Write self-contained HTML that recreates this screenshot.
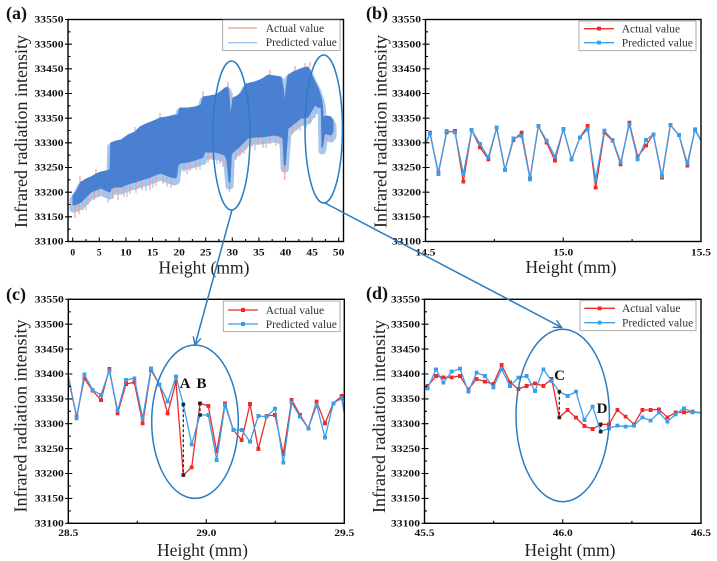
<!DOCTYPE html>
<html><head><meta charset="utf-8">
<style>
html,body{margin:0;padding:0;background:#fff;width:717px;height:561px;overflow:hidden}
svg{display:block}
svg text{font-family:"Liberation Serif","Times New Roman",serif}
</style>
</head><body>
<svg width="717" height="561" viewBox="0 0 717 561" xmlns="http://www.w3.org/2000/svg">
<defs>
<marker id="mr" markerWidth="4" markerHeight="4" refX="2" refY="2" markerUnits="userSpaceOnUse"><rect width="4" height="4" fill="#ee2b2b"/></marker>
<marker id="mb" markerWidth="4" markerHeight="4" refX="2" refY="2" markerUnits="userSpaceOnUse"><rect width="4" height="4" fill="#3a9fe8"/></marker>
<marker id="ar" markerWidth="12" markerHeight="12" refX="10" refY="6" orient="auto" markerUnits="userSpaceOnUse"><path d="M2,2 L10,6 L2,10" fill="none" stroke="#2a7cc0" stroke-width="1.4"/></marker>
<clipPath id="ca"><rect x="68" y="19.5" width="275.5" height="222"/></clipPath>
<clipPath id="cb"><rect x="425.5" y="19.5" width="275.5" height="222"/></clipPath>
<clipPath id="cc"><rect x="68.3" y="299.3" width="276" height="224"/></clipPath>
<clipPath id="cd"><rect x="424.5" y="299.3" width="276.5" height="224"/></clipPath>
<polygon id="core" points="73,196 77,190 81,182 86,179 91,177 96,174 101,172 106,171 110,170 110.7,143 116,141 121,140 128,135 135,132 140,127 146,124 151,122 156,120 160,118 167,117 175,115 178,115 179.7,108 188,108 195,107 201,105 203,97 209,96 215,95 220,92 225,88 228,87 229.5,100 230,115 231,112 233,98 237,96 241,93 246,84 250,83 255,82 262,79 268,75 275,76 281,77 283.5,90 284.7,105 286,90 288,75 293,72 298,70 303,68 308,67 313,78 318,88 321.3,98 322.5,106 323,117 327,116 331,117 333,122 333,132 331,135 327,134 324.7,133 322.5,147 322,147 321.3,108 318,107 314.7,105 311,112 308,117 304,118 301,118 295,123 290,127 288,128 285.3,165 284.2,165 283,138 279,136 275,135 268,136 261,137 255,137 248,138 243,143 238,148 233,152 231.3,155 230,182 229,182 227,160 224.7,155 219,153 214.7,152 209,152 204.7,152 203,157 201,158 195,160 188,162 181,163 178,165 176.5,177 174.7,178 168,176 161,173 155,175 148,178 141,180 135,182 128,184 121,187 116,187 111.3,188 110.5,191 109.7,192 105,190 101,188 96,190 91,192 86,197 81,202 77,204 73,205"/>
</defs>
<rect width="717" height="561" fill="#fff"/>

<!-- ===== Panel (a) data ===== -->
<g clip-path="url(#ca)">
<use href="#core" transform="translate(0,4)" fill="#a6c7ee" stroke="#a6c7ee" stroke-width="7" stroke-linejoin="round"/>
<path d="M86,197V210 M108,191V203 M127,185V197 M146,179V191 M153,176V188 M167,176V187 M180,164V175 M187,162V174 M200,158V170 M205,152V165 M217,153V164 M223,155V167 M244,142V154 M255,137V150 M266,136V148 M280,136V147 M288,128V140 M300,118V131 M306,117V128 M315,106V118" stroke="#9cc0ea" stroke-width="1.1" fill="none"/>
<path d="M75,204V218 M79,203V214 M83,200V210 M88,195V205 M94,191V200 M99,189V197 M104,189V196 M113,188V199 M118,187V200 M124,186V197 M130,184V194 M136,182V193 M142,180V190 M150,177V190 M156,175V186 M163,174V184 M171,177V188 M184,163V172 M190,161V171 M196,160V170 M208,152V163 M213,152V160 M220,153V164 M226,156V168 M229.5,180V192 M236,150V160 M240,146V156 M246,140V150 M252,137V147 M258,137V145 M263,137V148 M270,136V144 M276,135V146 M284.7,165V180 M292,125V135 M297,121V130 M303,118V126 M310,115V123 M327,134V140 M331,135V141 M80,183V176 M96,174V169 M135,132V127 M160,118V113 M203,97V91 M228,87V82 M232,100V93 M270,75V70 M295,71V66 M305,68V63 M310,67V62" stroke="#f29a92" stroke-width="1.1" fill="none"/>
<use href="#core" fill="#4a80d2" stroke="#4a80d2" stroke-width="1" stroke-linejoin="round"/>
</g>

<!-- ===== Panel (b) data ===== -->
<g clip-path="url(#cb)" fill="none" stroke-width="1.3" stroke-linejoin="round">
<polyline stroke="#ee2b2b" marker-mid="url(#mr)" points="426,143.3 430,132.7 438.3,172.7 446.7,132.3 455,131 463.3,181.7 471.7,130 480,147.3 488.3,159.3 496.7,127.7 505,170 513.3,140 521.7,132.7 530,178.3 538.3,126 546.7,142.7 555,160.7 563.3,129 571.7,159.3 580,137.3 587.7,126 595.7,187.7 604.3,132.7 612.7,140.7 620.7,164.3 629.3,122.7 637.7,156.7 646,145.7 653.3,134.3 662,177.7 670.3,125 679,135 687.3,165.7 695,129.3 700.7,140"/>
<polyline stroke="#3a9fe8" marker-mid="url(#mb)" points="426,143.3 430,133.3 438.3,174 446.7,131 455,132.3 463.3,174 471.7,130 480,144 488.3,157.3 496.7,127.7 505,170 513.3,138.3 521.7,136 530,179.3 538.3,126 546.7,140.7 555,156.7 563.3,129 571.7,159.3 580,137.3 587.7,129.3 595.7,179.3 604.3,130.7 612.7,140 620.7,162.3 629.3,124.3 637.7,159.3 646,140 653.3,134.3 662,176 670.3,125 679,135 687.3,163.3 695,130 700.7,140"/>
</g>

<!-- ===== Panel (c) data ===== -->
<g clip-path="url(#cc)" fill="none" stroke-width="1.3" stroke-linejoin="round">
<polyline stroke="#ee2b2b" marker-mid="url(#mr)" points="68.3,378.3 76.7,416.7 84.3,378.3 92.7,390.7 101,400 109.3,369 117.7,413.3 126,384 134.3,382.3 142.7,423.3 151,370 159.3,384.3 167.7,413.3 176,381.7 183.3,475 191.7,467.3 200,403.3 208.3,406 216.7,451.7 225,403.3 233.3,430 241.7,440 250,404 258.3,449 266.7,416 275,415 283.3,454 291.7,400 300,415 308.3,428.3 316.7,401.7 325,423.3 333.3,403.3 341.7,396 344.3,413.3"/>
<polyline stroke="#3a9fe8" marker-mid="url(#mb)" points="68.3,375 76.7,418.3 84.3,374.3 92.7,390 101,395 109.3,370.7 117.7,410.7 126,380 134.3,378.3 142.7,418.3 151,368.3 159.3,384.3 167.7,401.7 176,376.7 183.3,404.3 191.7,444.3 200,415 208.3,415 216.7,460 225,405 233.3,430 241.7,430 250,441.7 258.3,416 266.7,416.7 275,408.7 283.3,462.7 291.7,402.7 300,416.7 308.3,428.3 316.7,405 325,437.7 333.3,403.3 341.7,398.3 344.3,413.3"/>
</g>
<path d="M183.3,404.3V475 M200,403.3V415" stroke="#222" stroke-width="1.2" stroke-dasharray="3,2"/>
<g fill="#222"><circle cx="183.3" cy="404.3" r="1.8"/><circle cx="183.3" cy="475" r="1.8"/><circle cx="200" cy="403.3" r="1.8"/><circle cx="200" cy="415" r="1.8"/></g>
<g font-size="15" font-weight="bold" fill="#111" text-anchor="middle"><text x="185" y="388">A</text><text x="201.5" y="388">B</text></g>

<!-- ===== Panel (d) data ===== -->
<g clip-path="url(#cd)" fill="none" stroke-width="1.3" stroke-linejoin="round">
<polyline stroke="#ee2b2b" marker-mid="url(#mr)" points="424.3,390 427.7,386 436,376 443.3,377.3 451.7,377.3 460,376 468.3,389.3 476.7,379 485,381.7 493.3,384 501.7,365 510,382.3 518.3,389 526.7,386 535,383.3 543.3,386 551.7,379 559.3,417.3 567.7,410 576,417.7 584.3,426 592.7,429 600.7,424.3 609,424.3 617.3,410 625.7,416.7 634,424.3 642.3,410 650.7,410 659,409.3 667.3,417.3 675.7,412.3 684,412.3 692.3,411.7 700.7,412.7"/>
<polyline stroke="#3a9fe8" marker-mid="url(#mb)" points="424.3,388 427.7,388.3 436,369.3 443.3,382.7 451.7,371.7 460,368.7 468.3,391.7 476.7,372.7 485,376 493.3,387.3 501.7,369.3 510,386 518.3,377.7 526.7,376 535,391 543.3,369.3 551.7,381 559.3,391.7 567.7,396 576,391.7 584.3,420 592.7,406.7 600.7,431.7 609,428.3 617.3,425.7 625.7,426.7 634,425.7 642.3,417.3 650.7,420.7 659,412.3 667.3,421.7 675.7,414.3 684,408.3 692.3,412.3 700.7,412.7"/>
</g>
<path d="M559.3,391.7V417.3 M600.7,424.3V431.7" stroke="#222" stroke-width="1.2" stroke-dasharray="3,2"/>
<g fill="#222"><circle cx="559.3" cy="391.7" r="1.8"/><circle cx="559.3" cy="417.3" r="1.8"/><circle cx="600.7" cy="424.3" r="1.8"/><circle cx="600.7" cy="431.7" r="1.8"/></g>
<g font-size="15" font-weight="bold" fill="#111" text-anchor="middle"><text x="559.5" y="380">C</text><text x="602" y="413">D</text></g>

<!-- ===== Frames ===== -->
<g fill="none" stroke="#000" stroke-width="1.4">
<rect x="68" y="19.5" width="275.5" height="222"/>
<rect x="425.5" y="19.5" width="275.5" height="222"/>
<rect x="68.3" y="299.3" width="276" height="224"/>
<rect x="424.5" y="299.3" width="276.5" height="224"/>
</g>

<!-- ===== Ticks ===== -->
<g stroke="#000" stroke-width="1.1" fill="none">
<path d="M65,241.5H72M65,216.8H72M65,192.2H72M65,167.5H72M65,142.8H72M65,118.2H72M65,93.5H72M65,68.8H72M65,44.2H72M65,19.5H72 M68,229.2H70.5M68,204.5H70.5M68,179.8H70.5M68,155.2H70.5M68,130.5H70.5M68,105.8H70.5M68,81.2H70.5M68,56.5H70.5M68,31.8H70.5"/>
<path d="M72.7,241.5V237.5M99.3,241.5V237.5M125.9,241.5V237.5M152.5,241.5V237.5M179.1,241.5V237.5M205.7,241.5V237.5M232.3,241.5V237.5M258.9,241.5V237.5M285.5,241.5V237.5M312.1,241.5V237.5M338.7,241.5V237.5 M86,241.5V239M112.6,241.5V239M139.2,241.5V239M165.8,241.5V239M192.4,241.5V239M219,241.5V239M245.6,241.5V239M272.2,241.5V239M298.8,241.5V239M325.4,241.5V239"/>
<path d="M422.5,241.5H429.5M422.5,216.8H429.5M422.5,192.2H429.5M422.5,167.5H429.5M422.5,142.8H429.5M422.5,118.2H429.5M422.5,93.5H429.5M422.5,68.8H429.5M422.5,44.2H429.5M422.5,19.5H429.5 M425.5,229.2H428M425.5,204.5H428M425.5,179.8H428M425.5,155.2H428M425.5,130.5H428M425.5,105.8H428M425.5,81.2H428M425.5,56.5H428M425.5,31.8H428"/>
<path d="M563.25,241.5V237.5 M494.4,241.5V239 M632.1,241.5V239"/>
<path d="M65.3,523.3H72.3M65.3,498.4H72.3M65.3,473.5H72.3M65.3,448.6H72.3M65.3,423.7H72.3M65.3,398.9H72.3M65.3,374H72.3M65.3,349.1H72.3M65.3,324.2H72.3M65.3,299.3H72.3 M68.3,510.9H70.8M68.3,486H70.8M68.3,461.1H70.8M68.3,436.2H70.8M68.3,411.3H70.8M68.3,386.4H70.8M68.3,361.5H70.8M68.3,336.7H70.8M68.3,311.8H70.8"/>
<path d="M206.3,523.3V519.3 M137.3,523.3V520.8 M275.3,523.3V520.8"/>
<path d="M421.5,523.3H428.5M421.5,498.4H428.5M421.5,473.5H428.5M421.5,448.6H428.5M421.5,423.7H428.5M421.5,398.9H428.5M421.5,374H428.5M421.5,349.1H428.5M421.5,324.2H428.5M421.5,299.3H428.5 M424.5,510.9H427M424.5,486H427M424.5,461.1H427M424.5,436.2H427M424.5,411.3H427M424.5,386.4H427M424.5,361.5H427M424.5,336.7H427M424.5,311.8H427"/>
<path d="M562.75,523.3V519.3 M493.6,523.3V520.8 M631.9,523.3V520.8"/>
</g>

<!-- ===== Tick labels ===== -->
<g font-size="9.5" font-weight="bold" fill="#111" text-anchor="end">
<text x="63.5" y="244.7" textLength="29" lengthAdjust="spacingAndGlyphs">33100</text>
<text x="63.5" y="220" textLength="29" lengthAdjust="spacingAndGlyphs">33150</text>
<text x="63.5" y="195.4" textLength="29" lengthAdjust="spacingAndGlyphs">33200</text>
<text x="63.5" y="170.7" textLength="29" lengthAdjust="spacingAndGlyphs">33250</text>
<text x="63.5" y="146" textLength="29" lengthAdjust="spacingAndGlyphs">33300</text>
<text x="63.5" y="121.4" textLength="29" lengthAdjust="spacingAndGlyphs">33350</text>
<text x="63.5" y="96.7" textLength="29" lengthAdjust="spacingAndGlyphs">33400</text>
<text x="63.5" y="72" textLength="29" lengthAdjust="spacingAndGlyphs">33450</text>
<text x="63.5" y="47.4" textLength="29" lengthAdjust="spacingAndGlyphs">33500</text>
<text x="63.5" y="22.7" textLength="29" lengthAdjust="spacingAndGlyphs">33550</text>

<text x="421" y="244.7" textLength="29" lengthAdjust="spacingAndGlyphs">33100</text>
<text x="421" y="220" textLength="29" lengthAdjust="spacingAndGlyphs">33150</text>
<text x="421" y="195.4" textLength="29" lengthAdjust="spacingAndGlyphs">33200</text>
<text x="421" y="170.7" textLength="29" lengthAdjust="spacingAndGlyphs">33250</text>
<text x="421" y="146" textLength="29" lengthAdjust="spacingAndGlyphs">33300</text>
<text x="421" y="121.4" textLength="29" lengthAdjust="spacingAndGlyphs">33350</text>
<text x="421" y="96.7" textLength="29" lengthAdjust="spacingAndGlyphs">33400</text>
<text x="421" y="72" textLength="29" lengthAdjust="spacingAndGlyphs">33450</text>
<text x="421" y="47.4" textLength="29" lengthAdjust="spacingAndGlyphs">33500</text>
<text x="421" y="22.7" textLength="29" lengthAdjust="spacingAndGlyphs">33550</text>

<text x="63.8" y="526.5" textLength="29" lengthAdjust="spacingAndGlyphs">33100</text>
<text x="63.8" y="501.6" textLength="29" lengthAdjust="spacingAndGlyphs">33150</text>
<text x="63.8" y="476.7" textLength="29" lengthAdjust="spacingAndGlyphs">33200</text>
<text x="63.8" y="451.8" textLength="29" lengthAdjust="spacingAndGlyphs">33250</text>
<text x="63.8" y="426.9" textLength="29" lengthAdjust="spacingAndGlyphs">33300</text>
<text x="63.8" y="402.1" textLength="29" lengthAdjust="spacingAndGlyphs">33350</text>
<text x="63.8" y="377.2" textLength="29" lengthAdjust="spacingAndGlyphs">33400</text>
<text x="63.8" y="352.3" textLength="29" lengthAdjust="spacingAndGlyphs">33450</text>
<text x="63.8" y="327.4" textLength="29" lengthAdjust="spacingAndGlyphs">33500</text>
<text x="63.8" y="302.5" textLength="29" lengthAdjust="spacingAndGlyphs">33550</text>

<text x="420" y="526.5" textLength="29" lengthAdjust="spacingAndGlyphs">33100</text>
<text x="420" y="501.6" textLength="29" lengthAdjust="spacingAndGlyphs">33150</text>
<text x="420" y="476.7" textLength="29" lengthAdjust="spacingAndGlyphs">33200</text>
<text x="420" y="451.8" textLength="29" lengthAdjust="spacingAndGlyphs">33250</text>
<text x="420" y="426.9" textLength="29" lengthAdjust="spacingAndGlyphs">33300</text>
<text x="420" y="402.1" textLength="29" lengthAdjust="spacingAndGlyphs">33350</text>
<text x="420" y="377.2" textLength="29" lengthAdjust="spacingAndGlyphs">33400</text>
<text x="420" y="352.3" textLength="29" lengthAdjust="spacingAndGlyphs">33450</text>
<text x="420" y="327.4" textLength="29" lengthAdjust="spacingAndGlyphs">33500</text>
<text x="420" y="302.5" textLength="29" lengthAdjust="spacingAndGlyphs">33550</text>
</g>

<g font-size="9.5" font-weight="bold" fill="#111" text-anchor="middle">
<text x="72.7" y="255.5">0</text>
<text x="99.3" y="255.5">5</text>
<text x="125.9" y="255.5" textLength="11.5" lengthAdjust="spacingAndGlyphs">10</text>
<text x="152.5" y="255.5" textLength="11.5" lengthAdjust="spacingAndGlyphs">15</text>
<text x="179.1" y="255.5" textLength="11.5" lengthAdjust="spacingAndGlyphs">20</text>
<text x="205.7" y="255.5" textLength="11.5" lengthAdjust="spacingAndGlyphs">25</text>
<text x="232.3" y="255.5" textLength="11.5" lengthAdjust="spacingAndGlyphs">30</text>
<text x="258.9" y="255.5" textLength="11.5" lengthAdjust="spacingAndGlyphs">35</text>
<text x="285.5" y="255.5" textLength="11.5" lengthAdjust="spacingAndGlyphs">40</text>
<text x="312.1" y="255.5" textLength="11.5" lengthAdjust="spacingAndGlyphs">45</text>
<text x="338.7" y="255.5" textLength="11.5" lengthAdjust="spacingAndGlyphs">50</text>

<text x="425.5" y="255.5" textLength="20" lengthAdjust="spacingAndGlyphs">14.5</text>
<text x="563.25" y="255.5" textLength="20" lengthAdjust="spacingAndGlyphs">15.0</text>
<text x="701" y="255.5" textLength="20" lengthAdjust="spacingAndGlyphs">15.5</text>

<text x="68.3" y="536" textLength="20" lengthAdjust="spacingAndGlyphs">28.5</text>
<text x="206.3" y="536" textLength="20" lengthAdjust="spacingAndGlyphs">29.0</text>
<text x="344.3" y="536" textLength="20" lengthAdjust="spacingAndGlyphs">29.5</text>

<text x="424.5" y="536" textLength="20" lengthAdjust="spacingAndGlyphs">45.5</text>
<text x="562.75" y="536" textLength="20" lengthAdjust="spacingAndGlyphs">46.0</text>
<text x="701" y="536" textLength="20" lengthAdjust="spacingAndGlyphs">46.5</text>
</g>

<!-- ===== Axis titles ===== -->
<g font-size="17.5" fill="#222" text-anchor="middle">
<text x="204" y="273.5">Height (mm)</text>
<text x="571" y="273">Height (mm)</text>
<text x="202.5" y="556">Height (mm)</text>
<text x="570" y="556">Height (mm)</text>
</g>
<g font-size="18" fill="#222" text-anchor="middle">
<text transform="translate(27,131.5) rotate(-90)">Infrared radiation intensity</text>
<text transform="translate(386.5,131.5) rotate(-90)">Infrared radiation intensity</text>
<text transform="translate(26.5,416) rotate(-90)">Infrared radiation intensity</text>
<text transform="translate(385,416.5) rotate(-90)">Infrared radiation intensity</text>
</g>

<!-- ===== Panel labels ===== -->
<g font-size="18" font-weight="bold" fill="#111">
<text x="6" y="19">(a)</text>
<text x="366" y="19">(b)</text>
<text x="6" y="300">(c)</text>
<text x="366" y="299">(d)</text>
</g>

<!-- ===== Legends ===== -->
<g fill="#fff" stroke="#9a9a9a" stroke-width="0.8">
<rect x="222.7" y="20" width="117.3" height="30.5"/>
<rect x="579" y="21" width="117" height="29.7"/>
<rect x="223.3" y="301" width="116.7" height="30.7"/>
<rect x="580" y="300.7" width="116" height="30"/>
</g>
<g stroke-width="1.3" fill="none">
<path d="M228,28H257" stroke="#f29a92"/>
<path d="M228,42.7H257" stroke="#a0c8ee"/>
<polyline points="584,28.7 599,28.7 614,28.7" stroke="#ee2b2b" marker-mid="url(#mr)"/>
<polyline points="584,42.7 599,42.7 614,42.7" stroke="#3a9fe8" marker-mid="url(#mb)"/>
<polyline points="228,310 243,310 258,310" stroke="#ee2b2b" marker-mid="url(#mr)"/>
<polyline points="228,324 243,324 258,324" stroke="#3a9fe8" marker-mid="url(#mb)"/>
<polyline points="584.3,308.3 599.7,308.3 615,308.3" stroke="#ee2b2b" marker-mid="url(#mr)"/>
<polyline points="584.3,322.7 599.7,322.7 615,322.7" stroke="#3a9fe8" marker-mid="url(#mb)"/>
</g>
<g font-size="11.5" fill="#333">
<text x="265.7" y="31.8">Actual value</text>
<text x="265.7" y="46">Predicted value</text>
<text x="621.7" y="32.5">Actual value</text>
<text x="621.7" y="46.5">Predicted value</text>
<text x="265.7" y="313.8">Actual value</text>
<text x="265.7" y="327.8">Predicted value</text>
<text x="622" y="312">Actual value</text>
<text x="622" y="326.3">Predicted value</text>
</g>

<!-- ===== Ellipses & arrows ===== -->
<g fill="none" stroke="#2a7cc0" stroke-width="1.5">
<ellipse cx="231.5" cy="135.5" rx="18.5" ry="74.5"/>
<ellipse cx="323.7" cy="129" rx="18.7" ry="74"/>
<ellipse cx="195" cy="421.7" rx="43.3" ry="76.7"/>
<ellipse cx="562.7" cy="415.5" rx="46.7" ry="86.2"/>
<line x1="232" y1="210" x2="195" y2="345" marker-end="url(#ar)"/>
<line x1="325" y1="203" x2="561.7" y2="327.5" marker-end="url(#ar)"/>
</g>
</svg>
</body></html>
